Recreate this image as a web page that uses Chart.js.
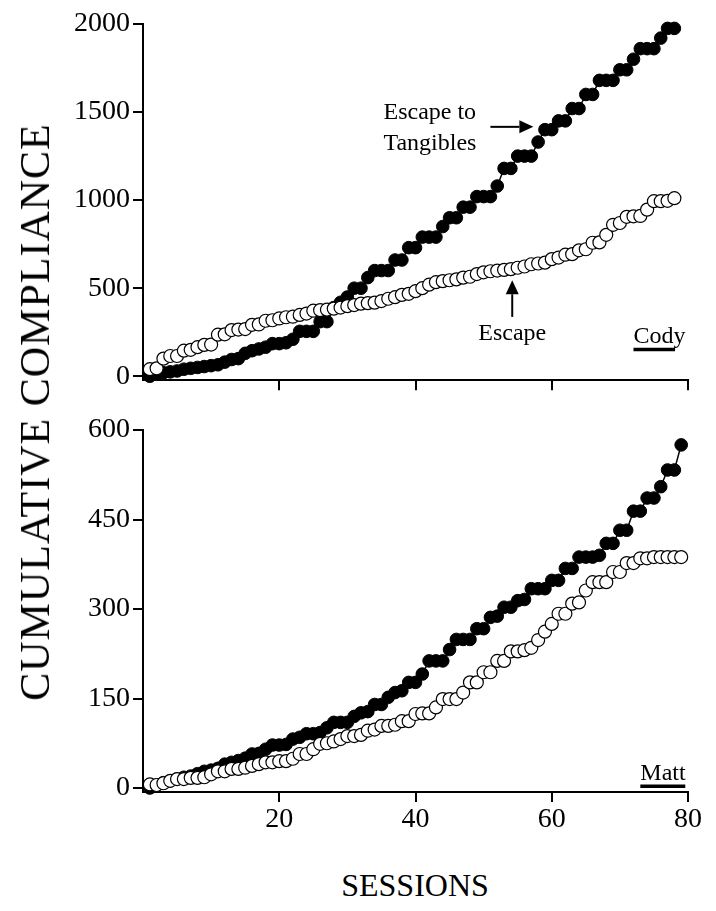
<!DOCTYPE html>
<html>
<head>
<meta charset="utf-8">
<script src="https://cdn.jsdelivr.net/npm/chart.js@4.4.1/dist/chart.umd.min.js"></script>
<style>
  body { margin: 0; background: #fff; width: 716px; height: 911px; position: relative; overflow: hidden; font-family: 'Liberation Serif', serif; color: #000; }
  #top { position: absolute; left: 0; top: 0; }
  #bottom { position: absolute; left: 0; top: 400px; }
  .ytitle { position: absolute; left: 35px; top: 412px; transform: translate(-50%, -50%) rotate(-90deg); white-space: nowrap; font-size: 42px; letter-spacing: 1px; }
  .xtitle { position: absolute; left: 415px; top: 885px; transform: translate(-50%, -50%); white-space: nowrap; font-size: 32px; }
</style>
</head>
<body>
<canvas id="top" width="716" height="400"></canvas>
<canvas id="bottom" width="716" height="460"></canvas>
<div class="ytitle">CUMULATIVE COMPLIANCE</div>
<div class="xtitle">SESSIONS</div>
<script>
// cumulative compliance per session
const codyTangibles = [
  0, 15, 20, 25, 30, 40, 45, 50, 55, 60,
  65, 80, 95, 100, 130, 145, 155, 165, 185, 185,
  190, 210, 255, 255, 255, 310, 310, 390, 420, 450,
  500, 500, 560, 600, 600, 600, 660, 660, 730, 730,
  790, 790, 790, 850, 900, 900, 960, 960, 1020, 1020,
  1020, 1080, 1180, 1180, 1250, 1250, 1250, 1330, 1400, 1400,
  1450, 1450, 1520, 1520, 1600, 1600, 1680, 1680, 1680, 1740,
  1740, 1800, 1860, 1860, 1860, 1920, 1975, 1975
];
const codyEscape = [
  40, 45, 100, 115, 115, 145, 150, 165, 178, 180,
  236, 238, 262, 265, 268, 292, 294, 315, 318, 328,
  335, 338, 348, 356, 372, 375, 378, 384, 390, 398,
  404, 412, 415, 418, 427, 440, 449, 462, 468, 483,
  500, 520, 534, 540, 545, 550, 560, 565, 580, 590,
  596, 600, 604, 608, 616, 623, 636, 640, 645, 665,
  674, 690, 693, 715, 721, 758, 760, 803, 860, 870,
  905, 908, 910, 946, 994, 994, 996, 1011
];
const mattTangibles = [
  0, 5, 9, 12, 15, 18, 20, 24, 28, 30,
  33, 40, 43, 46, 50, 57, 58, 65, 72, 72,
  73, 82, 85, 91, 91, 93, 101, 110, 110, 110,
  120, 126, 128, 140, 140, 152, 160, 163, 177, 177,
  191, 213, 213, 213, 232, 249, 249, 249, 267, 267,
  286, 288, 303, 303, 314, 316, 334, 334, 334, 348,
  348, 368, 368, 387, 387, 387, 390, 410, 410, 432,
  432, 464, 464, 486, 486, 505, 533, 533, 575
];
const mattEscape = [
  6, 5, 8, 12, 15, 15, 17, 17, 18, 23,
  28, 28, 32, 32, 34, 37, 40, 43, 43, 45,
  45, 49, 57, 57, 65, 74, 75, 78, 82, 87,
  87, 89, 96, 98, 104, 104, 106, 112, 112, 124,
  125, 125, 135, 149, 149, 149, 160, 177, 177, 194,
  194, 213, 213, 229, 229, 231, 235, 248, 262, 275,
  292, 292, 309, 311, 331, 345, 345, 345, 362, 362,
  377, 377, 385, 385, 387, 387, 387, 387, 387
];

const xTicks = [20, 40, 60, 80];
const codyTicks = [0, 500, 1000, 1500, 2000];
const mattTicks = [0, 150, 300, 450, 600];

Chart.defaults.font.family = "'Liberation Serif', serif";
Chart.defaults.color = '#000';

const toPoints = arr => arr.map((v, i) => ({ x: i + 1, y: v }));

// text, arrows and name underlines, placed in data units
const notesPlugin = {
  id: 'notes',
  afterDraw(chart, args, opts) {
    const ctx = chart.ctx;
    const px = v => chart.scales.x.getPixelForValue(v);
    const py = v => chart.scales.y.getPixelForValue(v);
    ctx.save();
    ctx.fillStyle = '#000';
    ctx.strokeStyle = '#000';
    ctx.font = "24px 'Liberation Serif', serif";
    ctx.textBaseline = 'middle';
    (opts.items || []).forEach(it => {
      if (it.text) {
        ctx.textAlign = it.align || 'left';
        ctx.fillText(it.text, px(it.x), py(it.y));
      }
      if (it.arrow) {
        const [x1, y1, x2, y2] = [px(it.arrow[0]), py(it.arrow[1]), px(it.arrow[2]), py(it.arrow[3])];
        const a = Math.atan2(y2 - y1, x2 - x1);
        const hl = 14, hw = 6.5;
        ctx.lineWidth = 2;
        ctx.beginPath();
        ctx.moveTo(x1, y1);
        ctx.lineTo(x2 - hl * Math.cos(a), y2 - hl * Math.sin(a));
        ctx.stroke();
        ctx.beginPath();
        ctx.moveTo(x2, y2);
        ctx.lineTo(x2 - hl * Math.cos(a) - hw * Math.sin(a), y2 - hl * Math.sin(a) + hw * Math.cos(a));
        ctx.lineTo(x2 - hl * Math.cos(a) + hw * Math.sin(a), y2 - hl * Math.sin(a) - hw * Math.cos(a));
        ctx.closePath();
        ctx.fill();
      }
      if (it.underline) {
        ctx.lineWidth = 3.5;
        ctx.beginPath();
        ctx.moveTo(px(it.underline[0]), py(it.underline[2]));
        ctx.lineTo(px(it.underline[1]), py(it.underline[2]));
        ctx.stroke();
      }
    });
    ctx.restore();
  }
};

function scales(yTicks, yMin, yMax, showXLabels, xHeight) {
  const axisGrid = { display: true, drawOnChartArea: false, drawTicks: true, tickLength: 10, color: '#000', lineWidth: 2 };
  const axisBorder = { display: true, color: '#000', width: 2 };
  const tickFont = { family: "'Liberation Serif', serif", size: 28 };
  return {
    x: {
      type: 'linear', min: 0, max: 80,
      afterBuildTicks: s => { s.ticks = xTicks.map(v => ({ value: v })); },
      afterFit: s => { s.height = xHeight; },
      grid: axisGrid, border: axisBorder,
      ticks: { display: showXLabels, font: tickFont, padding: 1, maxRotation: 0, color: '#000', callback: v => String(v) }
    },
    y: {
      type: 'linear', min: yMin, max: yMax,
      afterBuildTicks: s => { s.ticks = yTicks.map(v => ({ value: v })); },
      afterFit: s => { s.width = 143; },
      grid: axisGrid, border: axisBorder,
      ticks: { font: tickFont, padding: 3, color: '#000', callback: v => String(v) }
    }
  };
}

function datasets(filled, open) {
  return [
    {
      data: toPoints(open), order: 0,
      borderColor: '#000', borderWidth: 1, pointRadius: 6.5,
      pointBackgroundColor: '#fff', pointBorderColor: '#000', pointBorderWidth: 1.2
    },
    {
      data: toPoints(filled), order: 1,
      borderColor: '#000', borderWidth: 1.5, pointRadius: 6.3,
      pointBackgroundColor: '#000', pointBorderColor: '#000', pointBorderWidth: 1
    }
  ];
}

const common = {
  responsive: false, animation: false, clip: false,
  elements: { line: { tension: 0 } }
};

new Chart(document.getElementById('top'), {
  type: 'line',
  data: { datasets: datasets(codyTangibles, codyEscape) },
  options: Object.assign({}, common, {
    layout: { padding: { top: 24, right: 28, left: 0, bottom: 0 } },
    scales: scales(codyTicks, -22.5, 2000, false, 16),
    plugins: {
      legend: { display: false }, tooltip: { enabled: false },
      notes: { items: [
        { text: 'Escape to', x: 35.3, y: 1494 },
        { text: 'Tangibles', x: 35.3, y: 1320 },
        { arrow: [51, 1416, 57.3, 1416] },
        { text: 'Escape', x: 54.2, y: 241, align: 'center' },
        { arrow: [54.2, 337, 54.2, 545] },
        { text: 'Cody', x: 72, y: 225 },
        { underline: [72, 78.1, 152] }
      ] }
    }
  }),
  plugins: [notesPlugin]
});

new Chart(document.getElementById('bottom'), {
  type: 'line',
  data: { datasets: datasets(mattTangibles, mattEscape) },
  options: Object.assign({}, common, {
    layout: { padding: { top: 30, right: 28, left: 0, bottom: 28 } },
    scales: scales(mattTicks, -6.7, 600, true, 40),
    plugins: {
      legend: { display: false }, tooltip: { enabled: false },
      notes: { items: [
        { text: 'Matt', x: 73, y: 24 },
        { underline: [73, 79.6, 3] }
      ] }
    }
  }),
  plugins: [notesPlugin]
});
</script>
</body>
</html>
